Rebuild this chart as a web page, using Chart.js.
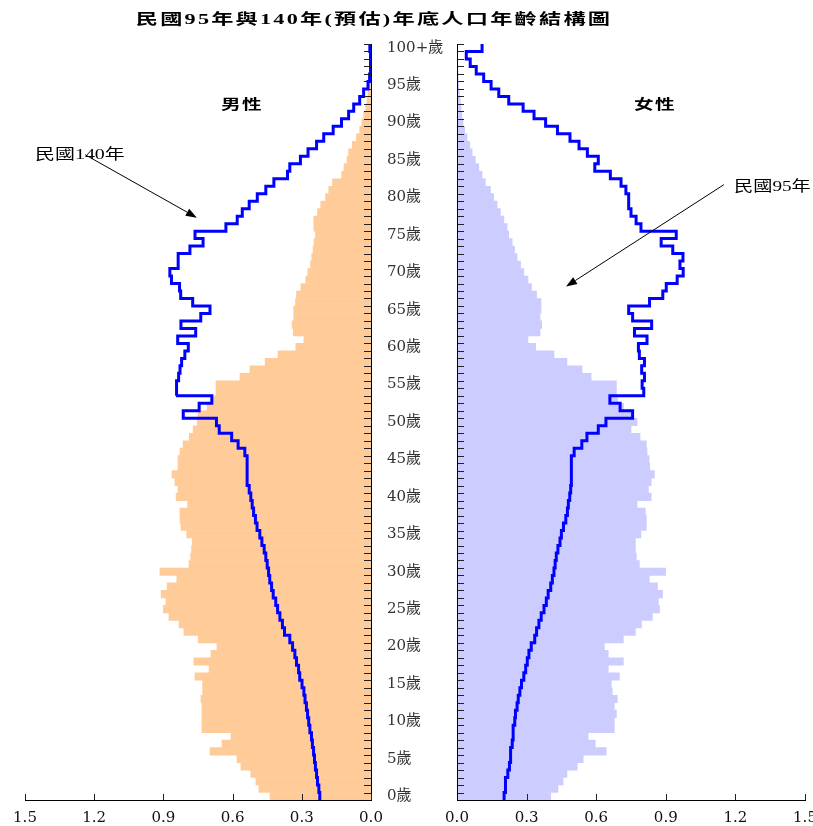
<!DOCTYPE html>
<html>
<head>
<meta charset="utf-8">
<script src="https://cdn.jsdelivr.net/npm/chart.js@4.4.1/dist/chart.umd.min.js"></script>
<style>
html,body{margin:0;padding:0;overflow:hidden;background:#fff;width:813px;height:826px;}
#wrap{position:relative;width:813px;height:826px;overflow:hidden;background:#fff;}
canvas{position:absolute;top:0;}
#cl{left:0;}
#cr{left:430px;}
.t{position:absolute;white-space:nowrap;color:#000;line-height:1;}
#title{left:0;width:748px;text-align:center;top:7px;font:bold 15px "Liberation Serif","Noto Sans CJK TC",serif;letter-spacing:1.5px;transform:scaleX(1.48);transform-origin:374px 0;}
#lm{left:221px;top:93px;font:bold 14px "Noto Sans CJK TC",sans-serif;letter-spacing:1px;transform:scaleX(1.4);transform-origin:0 0;}
#lf{left:634px;top:93px;font:bold 14px "Noto Sans CJK TC",sans-serif;letter-spacing:1px;transform:scaleX(1.4);transform-origin:0 0;}
#a140{left:35px;top:142px;font:15px "Liberation Serif","Noto Sans CJK TC",serif;transform:scaleX(1.33);transform-origin:0 0;}
#a95{left:734px;top:174px;font:15px "Liberation Serif","Noto Sans CJK TC",serif;transform:scaleX(1.28);transform-origin:0 0;}
</style>
</head>
<body>
<div id="wrap">
<canvas id="cl" width="455" height="826"></canvas>
<canvas id="cr" width="398" height="826"></canvas>
<div class="t" id="title">民國95年與140年(預估)年底人口年齡結構圖</div>
<div class="t" id="lm">男性</div>
<div class="t" id="lf">女性</div>
<div class="t" id="a140">民國140年</div>
<div class="t" id="a95">民國95年</div>
</div>
<script>
// ---- data ----
const ages = [0,1,2,3,4,5,6,7,8,9,10,11,12,13,14,15,16,17,18,19,20,21,22,23,24,25,26,27,28,29,30,31,32,33,34,35,36,37,38,39,40,41,42,43,44,45,46,47,48,49,50,51,52,53,54,55,56,57,58,59,60,61,62,63,64,65,66,67,68,69,70,71,72,73,74,75,76,77,78,79,80,81,82,83,84,85,86,87,88,89,90,91,92,93,94,95,96,97,98,99,100];
const ageTickLabels = ['0歲','5歲','10歲','15歲','20歲','25歲','30歲','35歲','40歲','45歲','50歲','55歲','60歲','65歲','70歲','75歲','80歲','85歲','90歲','95歲','100+歲'];
const xTickLabels = ['0.0','0.3','0.6','0.9','1.2','1.5'];

// 男性 民國95年 (%)
const male95 = [0.438,0.486,0.499,0.521,0.564,0.581,0.698,0.646,0.607,0.733,
0.733,0.733,0.733,0.737,0.730,0.730,0.763,0.702,0.768,0.694,
0.668,0.749,0.811,0.832,0.876,0.900,0.889,0.910,0.884,0.842,
0.915,0.789,0.782,0.778,0.775,0.799,0.824,0.828,0.828,0.795,
0.845,0.837,0.850,0.863,0.837,0.837,0.828,0.815,0.788,0.771,
0.753,0.750,0.710,0.685,0.672,0.672,0.568,0.525,0.459,0.403,
0.326,0.291,0.337,0.342,0.335,0.335,0.327,0.323,0.304,0.283,
0.274,0.262,0.257,0.251,0.247,0.241,0.248,0.248,0.232,0.218,
0.197,0.183,0.167,0.127,0.117,0.104,0.097,0.081,0.063,0.049,
0.040,0.032,0.023,0.017,0.013,0.010,0.006,0.004,0.003,0.002,0.002];

// 男性 民國140年 (%)
const male140 = [0.222,0.226,0.232,0.236,0.241,0.245,0.249,0.254,0.258,0.265,
0.270,0.275,0.280,0.286,0.291,0.299,0.309,0.314,0.323,0.330,
0.340,0.352,0.375,0.384,0.395,0.405,0.413,0.424,0.431,0.439,
0.444,0.450,0.456,0.463,0.473,0.482,0.494,0.501,0.509,0.515,
0.521,0.528,0.537,0.537,0.537,0.537,0.547,0.576,0.604,0.658,
0.670,0.814,0.745,0.690,0.845,0.842,0.834,0.828,0.821,0.807,
0.792,0.838,0.760,0.824,0.738,0.698,0.773,0.825,0.830,0.865,
0.872,0.836,0.836,0.785,0.728,0.763,0.629,0.580,0.558,0.528,
0.493,0.456,0.421,0.362,0.352,0.306,0.273,0.236,0.205,0.164,
0.128,0.097,0.075,0.049,0.032,0.013,0.006,0.004,0.002,0.001,0.005];

// 女性 民國95年 (%)
const female95 = [0.404,0.435,0.457,0.474,0.518,0.544,0.643,0.596,0.565,0.678,
0.678,0.687,0.678,0.691,0.669,0.665,0.700,0.652,0.717,0.652,
0.635,0.717,0.769,0.795,0.842,0.873,0.868,0.886,0.864,0.829,
0.899,0.786,0.773,0.769,0.769,0.793,0.816,0.816,0.812,0.776,
0.837,0.825,0.837,0.851,0.831,0.828,0.819,0.816,0.789,0.750,
0.776,0.759,0.718,0.692,0.687,0.687,0.578,0.539,0.474,0.418,
0.339,0.306,0.358,0.365,0.358,0.362,0.362,0.343,0.321,0.306,
0.288,0.274,0.259,0.248,0.238,0.223,0.216,0.202,0.187,0.173,
0.158,0.144,0.122,0.108,0.094,0.079,0.065,0.055,0.043,0.033,
0.026,0.021,0.017,0.014,0.010,0.007,0.005,0.004,0.003,0.002,0.002];

// 女性 民國140年 (%)
const female140 = [0.203,0.209,0.209,0.219,0.226,0.231,0.231,0.238,0.242,0.242,
0.249,0.252,0.259,0.264,0.271,0.278,0.288,0.296,0.303,0.310,
0.320,0.335,0.343,0.353,0.363,0.375,0.385,0.393,0.404,0.411,
0.418,0.423,0.428,0.435,0.444,0.450,0.459,0.469,0.476,0.480,
0.486,0.490,0.493,0.493,0.493,0.493,0.505,0.538,0.560,0.609,
0.642,0.757,0.703,0.659,0.805,0.798,0.808,0.796,0.808,0.786,
0.782,0.819,0.765,0.839,0.757,0.740,0.830,0.887,0.902,0.949,
0.975,0.961,0.974,0.930,0.880,0.945,0.793,0.772,0.750,0.740,
0.740,0.728,0.707,0.661,0.594,0.609,0.562,0.526,0.487,0.433,
0.382,0.332,0.285,0.223,0.180,0.147,0.115,0.083,0.057,0.040,0.108];

// ---- helpers ----
const SERIF = '"DejaVu Serif", "Noto Sans CJK TC", serif';
function stairs(vals){
  const pts = [];
  vals.forEach((v,i)=>{ pts.push({x:v, y:ages[i]-0.5}); pts.push({x:v, y:ages[i]+0.5}); });
  return pts;
}

const innerTicks = {
  id:'innerTicks',
  afterDatasetsDraw(chart, args, o){
    const {ctx, chartArea:a, scales} = chart;
    const x = scales.x, y2 = scales.y2;
    const right = o.side === 'right';
    const ax = right ? a.right : a.left;
    const dir = right ? -1 : 1;
    ctx.save();
    ctx.strokeStyle = '#222';
    ctx.lineWidth = 1;
    ctx.beginPath();
    for (let k = 0; k < ages.length; k++) {
      const py = Math.round(y2.getPixelForValue(ages[k] + 0.5)) + 0.5;
      ctx.moveTo(ax, py); ctx.lineTo(ax + dir*7, py);
    }
    x.ticks.forEach(t => {
      const px = Math.round(x.getPixelForValue(t.value)) + 0.5;
      ctx.moveTo(px, a.bottom); ctx.lineTo(px, a.bottom - 6);
    });
    ctx.stroke();
    if (o.axisLine) {
      ctx.strokeStyle = '#000';
      ctx.beginPath();
      const lx = Math.round(ax) + 0.5;
      ctx.moveTo(lx, a.top); ctx.lineTo(lx, a.bottom);
      ctx.stroke();
    }
    ctx.restore();
  }
};

const arrowPlugin = {
  id:'arrow',
  afterDraw(chart, args, o){
    if (!o || !o.from) return;
    const {ctx, scales} = chart;
    const x = scales.x, y2 = scales.y2;
    const x1 = x.getPixelForValue(o.from[0]), y1 = y2.getPixelForValue(o.from[1]);
    const x2 = x.getPixelForValue(o.to[0]), yb = y2.getPixelForValue(o.to[1]);
    const ang = Math.atan2(yb - y1, x2 - x1), L = 11, W = 4;
    const bx = x2 - L*Math.cos(ang), by = yb - L*Math.sin(ang);
    ctx.save();
    ctx.strokeStyle = '#000'; ctx.fillStyle = '#000'; ctx.lineWidth = 1;
    ctx.beginPath(); ctx.moveTo(x1, y1); ctx.lineTo(bx, by); ctx.stroke();
    ctx.beginPath();
    ctx.moveTo(x2, yb);
    ctx.lineTo(bx - W*Math.sin(ang), by + W*Math.cos(ang));
    ctx.lineTo(bx + W*Math.sin(ang), by - W*Math.cos(ang));
    ctx.closePath(); ctx.fill();
    ctx.restore();
  }
};

function makeChart(canvasId, bars, line, barColor, isLeft, arrow){
  return new Chart(document.getElementById(canvasId), {
    type:'bar',
    data: {
      labels: ages,
      datasets: [
        { type:'line', data: stairs(line), xAxisID:'x', yAxisID:'y2',
          borderColor:'#0000FF', borderWidth:3, pointRadius:0, fill:false,
          tension:0, order:0, borderJoinStyle:'miter', borderCapStyle:'butt' },
        { type:'bar', data: bars, xAxisID:'x', yAxisID:'y',
          backgroundColor: barColor, borderWidth:0, grouped:false,
          barPercentage:1.0, categoryPercentage:1.0, order:1 }
      ]
    },
    options: {
      indexAxis:'y',
      responsive:false,
      animation:false,
      events:[],
      datasets:{ bar:{ barPercentage:1.0, categoryPercentage:1.0, grouped:false } },
      layout:{ padding: isLeft ? {left:25, right:0, top:44, bottom:0}
                               : {left:27, right:23, top:44, bottom:0} },
      plugins:{ legend:{display:false}, tooltip:{enabled:false},
                innerTicks:{ side: isLeft ? 'right' : 'left', axisLine: !isLeft },
                arrow: arrow },
      scales:{
        x:{ type:'linear', position:'bottom', reverse:isLeft, min:0, max:1.5,
            ticks:{ stepSize:0.3, autoSkip:false, maxRotation:0, padding:9,
                    color:'#111', font:{family:SERIF, size:15},
                    callback:(v)=> xTickLabels[Math.round(v/0.3)] },
            grid:{ display:false, drawTicks:false },
            border:{ display:true, color:'#000', width:1 },
            afterFit(s){ s.height = 26; } },
        y:{ type:'category', position:'right', reverse:true, offset:true,
            display: isLeft,
            ticks:{ autoSkip:false, padding:16, color:'#333',
                    font:{family:SERIF, size:15},
                    callback:(v,i)=> (i % 5 === 0 ? ageTickLabels[i/5] : '') },
            grid:{ display:false, drawTicks:false },
            border:{ display:true, color:'#000', width:1 },
            afterFit(s){ s.width = isLeft ? 84 : 0; } },
        y2:{ type:'linear', display:false, min:-0.5, max:100.5, offset:false,
             grid:{offset:false}, beginAtZero:false }
      }
    },
    plugins:[innerTicks, arrowPlugin]
  });
}

makeChart('cl', male95, male140, '#FFCC99', true, {from:[1.239, 85.7], to:[0.755, 77.3]});
makeChart('cr', female95, female140, '#CCCCFF', false, {from:[1.150, 81.7], to:[0.470, 68.1]});
</script>
</body>
</html>
